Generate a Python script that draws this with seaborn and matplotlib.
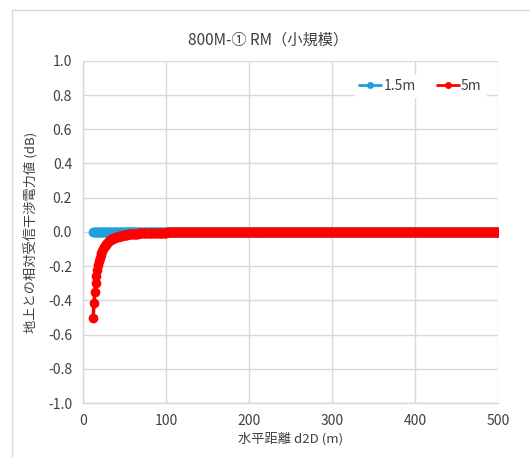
import matplotlib
matplotlib.use("Agg")
import matplotlib.pyplot as plt
import seaborn as sns
import pandas as pd
from matplotlib.lines import Line2D

# ---- data ----
distance = list(range(12, 501))          # horizontal distance d2D (m)
series_names = ["1.5m", "5m"]
colors = ["#1ea0dc", "#ff0000"]

val_15m = [0.0] * len(distance)          # flat at 0.0 dB over the whole range

val_5m_head = [  # d = 12 .. 100
    -0.500, -0.415, -0.350, -0.298, -0.256, -0.222, -0.195, -0.172, -0.152,
    -0.136, -0.122, -0.110, -0.099, -0.090, -0.082, -0.075, -0.069, -0.063,
    -0.058, -0.054, -0.050, -0.047, -0.044, -0.041, -0.038, -0.036, -0.034,
    -0.032, -0.030, -0.028, -0.027, -0.026, -0.024, -0.023, -0.022, -0.021,
    -0.020, -0.019, -0.018, -0.017, -0.017, -0.016, -0.015, -0.015, -0.014,
    -0.014, -0.013, -0.013, -0.012, -0.012, -0.011, -0.011, -0.010, -0.010,
    -0.010, -0.009, -0.009, -0.009, -0.008, -0.008, -0.008, -0.008, -0.007,
    -0.007, -0.007, -0.007, -0.006, -0.006, -0.006, -0.006, -0.006, -0.006,
    -0.005, -0.005, -0.005, -0.005, -0.005, -0.005, -0.005, -0.004, -0.004,
    -0.004, -0.004, -0.004, -0.004, -0.004, -0.004, -0.004, -0.004,
]
val_5m_tail = [0.0] * (len(distance) - len(val_5m_head))   # d = 101 .. 500
val_5m = val_5m_head + val_5m_tail

title = "800M-① RM（小規模）"
xlabel = "水平距離 d2D (m)"
ylabel = "地上との相対受信干渉電力値 (dB)"
xticks = [0, 100, 200, 300, 400, 500]
yticks = [-1.0, -0.8, -0.6, -0.4, -0.2, 0.0, 0.2, 0.4, 0.6, 0.8, 1.0]

df = pd.concat([
    pd.DataFrame({"d": distance, "v": val_15m, "s": series_names[0]}),
    pd.DataFrame({"d": distance, "v": val_5m, "s": series_names[1]}),
])

# ---- style ----
sns.set_theme(style="whitegrid")
plt.rcParams["font.family"] = ["Noto Sans CJK JP", "DejaVu Sans"]
grid_c = "#d9d9d9"
text_c = "#404040"

fig = plt.figure(figsize=(5.30, 4.57), dpi=100)
ax = fig.add_axes([0.157, 0.118, 0.783, 0.749])

for name, col in zip(series_names, colors):
    sub = df[df["s"] == name]
    sns.lineplot(data=sub, x="d", y="v", ax=ax, color=col, linewidth=2.5,
                 marker="o", markersize=7, markeredgewidth=0, label=name,
                 legend=False)

ax.set_xlim(0, 500)
ax.set_ylim(-1.0, 1.0)
ax.set_xticks(xticks)
ax.set_yticks(yticks)
ax.set_xticklabels([str(t) for t in xticks])
ax.set_yticklabels([f"{t:.1f}" for t in yticks])
ax.tick_params(axis="both", labelsize=10, colors=text_c, length=0, pad=8)
ax.grid(True, color=grid_c, linewidth=1)
for side in ["top", "right"]:
    ax.spines[side].set_visible(False)
for side in ["left", "bottom"]:
    ax.spines[side].set_color(grid_c)
    ax.spines[side].set_linewidth(1)

ax.set_xlabel(xlabel, fontsize=9.5, color=text_c, labelpad=3)
ax.set_ylabel(ylabel, fontsize=9.5, color=text_c, labelpad=7)
fig.text(0.506, 0.912, title, ha="center", va="center", fontsize=11, color=text_c)

handles = [Line2D([0], [0], color=c, lw=2, marker="o", markersize=5,
                  markeredgewidth=0) for c in colors]
leg = ax.legend(handles, series_names, loc="center left", ncol=2, frameon=True,
                fontsize=10, bbox_to_anchor=(0.655, 0.927), handlelength=1.6,
                handletextpad=0.15, columnspacing=1.5, borderaxespad=0.0,
                borderpad=0.3)
leg.get_frame().set_facecolor("white")
leg.get_frame().set_edgecolor("white")
leg.get_frame().set_alpha(1)
for t in leg.get_texts():
    t.set_color(text_c)

# outer chart border (light gray)
fig.add_artist(Line2D([12 / 530, 12 / 530], [0, 1 - 10 / 457], transform=fig.transFigure,
                      color=grid_c, lw=1))
fig.add_artist(Line2D([12 / 530, 1], [1 - 10 / 457, 1 - 10 / 457], transform=fig.transFigure,
                      color=grid_c, lw=1))

fig.savefig("out.png", dpi=100)
